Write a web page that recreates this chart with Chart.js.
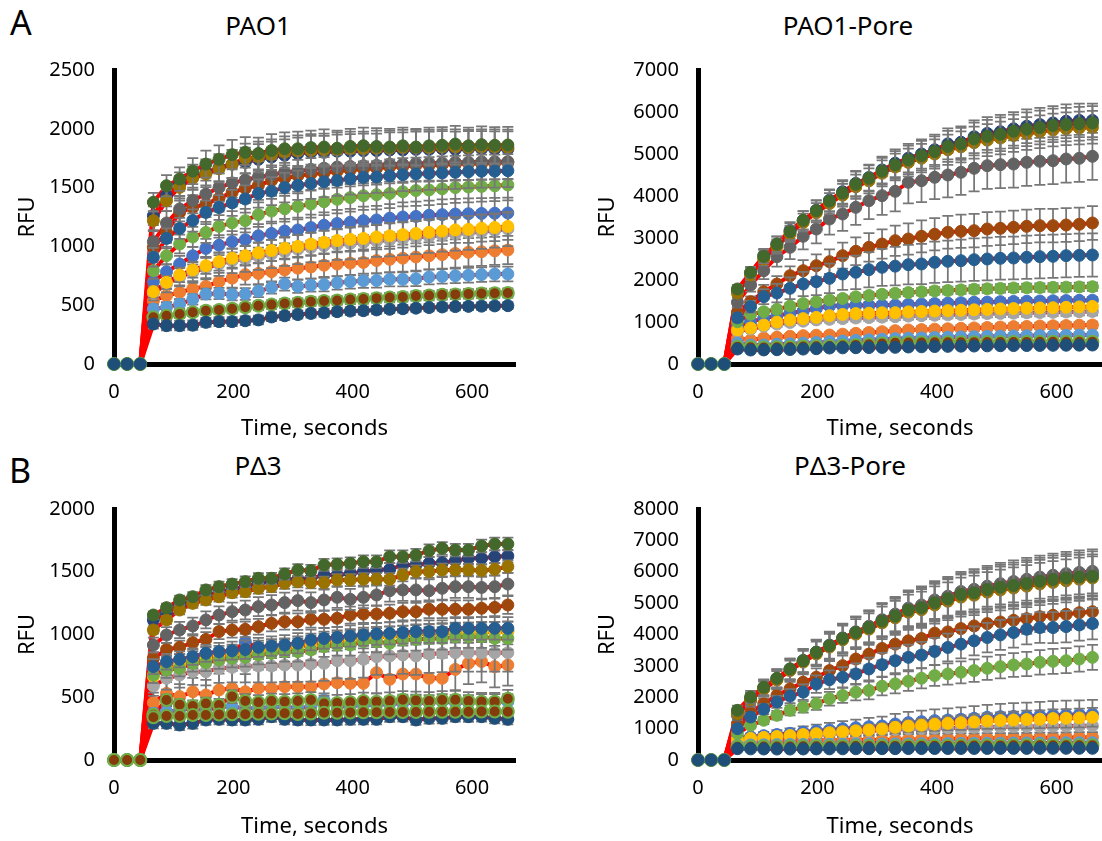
<!DOCTYPE html>
<html>
<head>
<meta charset="utf-8">
<title>RFU kinetics</title>
<script src="https://cdn.jsdelivr.net/npm/chart.js@4.4.1/dist/chart.umd.min.js"></script>
<style>
  body { margin: 0; background: #fff; font-family: "Noto Sans", sans-serif; }
  #page { position: relative; width: 1102px; height: 841px; overflow: hidden; background: #fff; }
  canvas { position: absolute; }
  .panel-tag { position: absolute; font-size: 34px; line-height: 1; color: #000; }
  .panel-title { position: absolute; width: 240px; text-align: center; font-size: 26px; line-height: 1; color: #000; }
</style>
</head>
<body>
<div id="page">
  <div class="panel-tag" style="left:10px;top:5px">A</div>
  <div class="panel-tag" style="left:9px;top:453px">B</div>
  <div class="panel-title" style="left:138px;top:12px">PAO1</div>
  <div class="panel-title" style="left:728px;top:12px">PAO1-Pore</div>
  <div class="panel-title" style="left:138px;top:452px">PΔ3</div>
  <div class="panel-title" style="left:730px;top:452px">PΔ3-Pore</div>
  <canvas id="pao1" width="551" height="440" style="left:0;top:0"></canvas>
  <canvas id="pao1Pore" width="551" height="440" style="left:551px;top:0"></canvas>
  <canvas id="pd3" width="551" height="401" style="left:0;top:440px"></canvas>
  <canvas id="pd3Pore" width="551" height="401" style="left:551px;top:440px"></canvas>
</div>
<script>
// read times (s)
const times = [0,22,44,66,88,110,132,154,176,198,220,242,264,286,308,330,352,374,396,418,440,462,484,506,528,550,572,594,616,638,660];

const xTicks = [0, 200, 400, 600];
const pao1Ticks = [0, 500, 1000, 1500, 2000, 2500];
const pao1PoreTicks = [0, 1000, 2000, 3000, 4000, 5000, 6000, 7000];
const pd3Ticks = [0, 500, 1000, 1500, 2000];
const pd3PoreTicks = [0, 1000, 2000, 3000, 4000, 5000, 6000, 7000, 8000];

// marker colours, one per series (Office palette order)
const markerFill = ["#4472C4","#ED7D31","#A5A5A5","#FFC000","#5B9BD5","#70AD47","#264478","#9E480E","#636363","#997300","#255E91","#43682B","#843C0C","#1F4E79","#843C0C"];
const markerEdge = ["#4472C4","#ED7D31","#A5A5A5","#FFC000","#5B9BD5","#70AD47","#264478","#9E480E","#636363","#997300","#255E91","#43682B","#70AD47","#1F4E79","#70AD47"];

// PAO1 mean RFU per series
const pao1Rfu = [
  [0,0,0, 700,785,850,920,983,1010,1040, 1057,1090,1110,1130,1140,1160,1180, 1195,1205,1219,1225,1240,1250,1255, 1265,1270,1275,1278,1280,1282,1284],
  [0,0,0, 538,581,609,640,660,700,730, 760,770,785,800,815,825,840, 850,858,864,880,890,900,910, 920,930,940,950,955,962,969],
  [0,0,0, 600,680,740,780,815,850,878, 893,915,935,955,975,990,1005, 1015,1025,1034,1045,1055,1065,1075, 1085,1095,1105,1115,1125,1135,1148],
  [0,0,0, 615,694,757,800,836,870,900, 921,945,965,985,1000,1020,1035, 1050,1060,1068,1080,1090,1100,1110, 1120,1130,1140,1145,1155,1160,1170],
  [0,0,0, 468,482,510,550,595,600,590, 595,620,650,680,660,670,675, 690,700,708,710,720,720,725, 740,745,750,755,760,765,765],
  [0,0,0, 794,921,1020,1080,1119,1170,1200, 1219,1270,1300,1320,1340,1360,1380, 1400,1415,1431,1440,1450,1465,1475, 1480,1490,1500,1505,1510,1515,1522],
  [0,0,0, 1261,1431,1530,1590,1629,1670,1700, 1715,1740,1760,1775,1790,1800,1800, 1810,1810,1814,1815,1820,1820,1825, 1825,1830,1825,1830,1830,1828,1828],
  [0,0,0, 992,1119,1289,1330,1360,1410,1460, 1493,1520,1560,1580,1600,1615,1625, 1640,1650,1658,1665,1675,1680,1690, 1690,1695,1700,1705,1705,1710,1715],
  [0,0,0, 1040,1199,1318,1390,1445,1500,1540, 1564,1590,1610,1630,1640,1655,1665, 1675,1680,1686,1690,1700,1700,1705, 1710,1710,1715,1715,1720,1720,1720],
  [0,0,0, 1219,1389,1502,1580,1615,1660,1700, 1749,1760,1780,1800,1810,1815,1820, 1825,1830,1830,1835,1835,1840,1840, 1840,1845,1845,1840,1845,1845,1842],
  [0,0,0, 907,1068,1153,1220,1289,1330,1370, 1403,1450,1470,1500,1520,1535,1550, 1560,1575,1587,1590,1600,1610,1615, 1620,1625,1630,1635,1640,1640,1644],
  [0,0,0, 1375,1516,1573,1640,1700,1740,1780, 1800,1790,1815,1830,1830,1840,1845, 1835,1850,1856,1850,1845,1855,1845, 1855,1860,1870,1855,1865,1860,1862],
  [0,0,0, 397,411,425,440,453,460,470, 482,495,505,515,520,530,535, 540,548,553,560,565,570,578, 582,588,592,596,600,602,604],
  [0,0,0, 340,326,326,330,354,360,360, 368,375,400,410,420,430,435, 445,450,453,460,465,470,475, 480,485,488,490,492,494,496]
];
const pao1Sd = [
  [0,0,0, 60,65,70,75,80,85,90, 95,100,100,105,105,110,110, 115,115,120,120,120,125,125, 125,130,130,130,130,130,130],
  [0,0,0, 50,55,60,65,70,75,80, 85,90,90,95,95,100,100, 105,105,110,110,110,115,115, 115,120,120,120,120,120,120],
  [0,0,0, 60,70,80,90,95,100,105, 110,115,120,120,125,125,130, 130,135,135,135,140,140,140, 140,140,140,145,145,145,145],
  [0,0,0, 50,55,60,65,70,75,80, 85,90,90,95,95,100,100, 100,105,105,105,110,110,110, 110,110,110,115,115,115,115],
  [0,0,0, 40,40,42,45,45,48,50, 50,52,52,55,55,55,58, 58,58,60,60,60,60,62, 62,62,62,62,62,62,62],
  [0,0,0, 70,75,80,85,90,95,100, 100,105,105,110,110,115,115, 120,120,120,125,125,125,130, 130,130,130,130,130,130,130],
  [0,0,0, 80,90,100,105,110,115,120, 125,130,130,135,135,140,140, 140,145,145,145,150,150,150, 150,150,150,150,150,150,150],
  [0,0,0, 80,90,100,105,110,115,120, 125,125,130,130,135,135,135, 140,140,140,140,140,140,140, 140,140,140,140,140,140,140],
  [0,0,0, 90,100,105,110,115,120,125, 130,135,135,140,140,145,145, 145,150,150,150,150,150,150, 150,150,150,150,150,150,150],
  [0,0,0, 80,90,95,100,110,115,120, 125,130,130,135,135,140,140, 145,145,145,150,150,150,150, 150,150,150,150,150,150,150],
  [0,0,0, 80,85,90,95,100,105,110, 115,120,120,125,125,130,130, 130,135,135,135,140,140,140, 140,140,140,140,140,140,140],
  [0,0,0, 80,90,100,110,115,120,125, 130,135,140,140,145,145,150, 150,150,155,155,155,155,155, 155,155,155,155,155,155,155],
  [0,0,0, 30,30,32,32,34,34,35, 35,36,36,37,37,38,38, 38,39,39,39,40,40,40, 40,40,40,40,40,40,40],
  [0,0,0, 40,40,40,40,38,38,38, 37,37,36,36,35,35,35, 34,34,34,33,33,33,32, 32,32,31,31,31,30,30]
];

// PAO1-Pore mean RFU per series
const pao1PoreRfu = [
  [0,0,0, 888,1008,1087,1150,1210,1260,1320, 1381,1390,1395,1400,1403,1405,1420, 1430,1440,1450,1460,1470,1475,1485, 1490,1495,1500,1505,1510,1515,1520],
  [0,0,0, 611,571,619,640,660,675,685, 690,710,730,750,770,794,810, 820,830,840,850,860,870,880, 890,895,905,910,915,925,930],
  [0,0,0, 780,830,900,950,990,1020,1050, 1063,1080,1095,1105,1115,1127,1140, 1150,1160,1170,1180,1190,1200,1205, 1210,1220,1225,1230,1238,1245,1250],
  [0,0,0, 810,857,929,1000,1050,1080,1110, 1150,1180,1200,1210,1220,1222,1240, 1250,1260,1270,1280,1290,1300,1310, 1320,1330,1335,1340,1350,1360,1370],
  [0,0,0, 500,452,452,470,480,495,510, 532,545,560,575,590,603,612, 620,630,638,645,650,658,663, 668,672,676,680,684,688,690],
  [0,0,0, 1007,1183,1246,1300,1380,1440,1480, 1524,1560,1600,1630,1660,1683,1700, 1720,1740,1750,1765,1780,1790,1800, 1810,1815,1820,1825,1830,1835,1840],
  [0,0,0, 1750,2167,2580,2860,3180,3420,3660, 3900,4100,4300,4440,4620,4780,4900, 5000,5100,5240,5280,5410,5490,5530, 5600,5660,5700,5740,5780,5800,5800],
  [0,0,0, 1221,1483,1722,1905,2103,2222,2341, 2437,2580,2683,2778,2857,2937,2976, 3040,3088,3135,3159,3175,3214,3230, 3254,3278,3294,3294,3310,3326,3357],
  [0,0,0, 1468,1881,2222,2556,2778,3040,3214, 3452,3572,3730,3889,4008,4111,4326, 4365,4445,4500,4564,4659,4722,4746, 4762,4802,4826,4841,4881,4897,4945],
  [0,0,0, 1690,2120,2500,2800,3100,3370,3600, 3820,4020,4220,4360,4540,4690,4800, 4900,5000,5100,5170,5270,5330,5380, 5440,5490,5530,5570,5600,5620,5635],
  [0,0,0, 1100,1365,1603,1690,1802,1905,1960, 2040,2143,2183,2246,2302,2330,2365, 2381,2421,2445,2460,2484,2500,2516, 2524,2540,2556,2564,2580,2587,2595],
  [0,0,0, 1786,2180,2560,2850,3150,3420,3650, 3880,4070,4280,4420,4590,4740,4860, 4960,5060,5180,5240,5360,5420,5470, 5540,5590,5630,5680,5700,5720,5740],
  [0,0,0, 413,400,395,400,405,415,422, 429,440,455,470,490,508,510, 512,515,517,518,520,522,523, 525,526,527,528,529,530,532],
  [0,0,0, 357,333,335,340,345,355,365, 381,385,388,392,395,397,405, 410,415,420,425,428,432,435, 438,440,443,445,447,449,452]
];
const pao1PoreSd = [
  [0,0,0, 50,52,54,56,58,60,62, 64,66,68,70,70,72,72, 74,74,76,76,78,78,80, 80,80,80,80,80,80,80],
  [0,0,0, 50,52,54,56,58,60,62, 64,66,68,70,70,72,72, 74,74,76,76,78,78,80, 80,80,80,80,80,80,80],
  [0,0,0, 60,62,64,66,68,70,72, 74,76,78,80,80,82,82, 84,84,86,86,88,88,90, 90,90,90,90,90,90,90],
  [0,0,0, 50,52,54,56,58,60,62, 64,66,68,70,70,72,72, 74,74,76,76,78,78,80, 80,80,80,80,80,80,80],
  [0,0,0, 40,40,42,42,44,44,46, 46,48,48,50,50,52,52, 54,54,56,56,58,58,60, 60,60,60,60,60,60,60],
  [0,0,0, 60,62,64,66,68,70,72, 74,76,78,80,82,84,86, 88,90,92,94,96,98,100, 100,100,100,100,100,100,100],
  [0,0,0, 100,130,160,180,200,220,240, 260,280,300,310,320,330,340, 350,360,370,380,390,390,400, 400,400,400,400,400,400,400],
  [0,0,0, 100,130,160,190,220,250,270, 290,310,330,340,350,360,370, 380,385,390,395,400,400,400, 400,400,400,400,400,400,400],
  [0,0,0, 120,160,200,240,280,310,340, 370,400,420,440,460,480,500, 510,520,530,540,550,555,560, 560,560,560,560,560,560,560],
  [0,0,0, 100,120,150,170,190,210,230, 250,270,290,300,310,320,330, 340,350,360,370,380,380,390, 390,390,390,390,390,390,390],
  [0,0,0, 100,140,180,220,260,290,320, 350,380,400,420,440,460,470, 480,490,495,500,505,510,510, 510,515,515,515,515,515,515],
  [0,0,0, 100,130,160,180,200,220,240, 260,280,300,310,320,330,340, 350,360,370,380,390,390,400, 400,400,400,400,400,400,400],
  [0,0,0, 40,40,40,42,42,42,44, 44,44,46,46,46,48,48, 48,50,50,50,50,50,50, 50,50,50,50,50,50,50],
  [0,0,0, 40,40,40,42,42,42,44, 44,44,46,46,46,48,48, 48,50,50,50,50,50,50, 50,50,50,50,50,50,50]
];

// PΔ3 mean RFU per series
const pd3Rfu = [
  [0,0,0, 730,770,790,810,840,850,860, 943,890,900,905,920,940,955, 965,975,985,990,995,1000,1005, 1010,1015,1020,1025,1025,1030,1030],
  [0,0,0, 457,531,505,544,518,558,571, 544,571,571,584,584,584,606, 616,611,611,696,643,685,685, 651,651,722,770,784,744,757],
  [0,0,0, 590,651,677,704,704,730,738, 744,749,749,757,757,765,770, 791,791,802,823,829,837,829, 845,850,855,855,855,855,855],
  [0,0,0, 665,730,760,790,810,830,845, 855,870,880,890,900,920,935, 945,955,965,975,985,990,1000, 1005,1010,1015,1015,1020,1020,1025],
  [0,0,0, 372,385,398,412,393,425,425, 412,412,420,425,412,425,478, 425,430,438,438,446,452,457, 457,465,457,457,465,465,465],
  [0,0,0, 677,717,730,770,776,797,810, 818,837,850,863,863,876,903, 916,916,943,943,930,956,961, 969,969,983,983,983,969,969],
  [0,0,0, 1116,1169,1235,1265,1310,1340,1360, 1380,1410,1420,1440,1440,1448,1474, 1474,1487,1501,1514,1519,1554,1554, 1567,1572,1588,1607,1607,1620,1625],
  [0,0,0, 810,881,898,935,961,1023,1036, 1041,1062,1089,1102,1102,1121,1121, 1129,1155,1163,1163,1169,1182,1182, 1201,1201,1201,1201,1209,1216,1235],
  [0,0,0, 916,996,1036,1068,1116,1155,1182, 1195,1222,1235,1254,1270,1254,1275, 1296,1280,1296,1315,1349,1355,1355, 1349,1368,1381,1381,1375,1381,1402],
  [0,0,0, 1036,1116,1195,1248,1275,1301,1333, 1341,1368,1381,1408,1421,1413,1413, 1434,1434,1440,1440,1440,1474,1501, 1501,1514,1514,1514,1510,1519,1541],
  [0,0,0, 744,783,802,823,850,863,871, 880,898,908,916,930,956,969, 977,988,996,1004,1009,1015,1023, 1023,1023,1049,1049,1049,1049,1049],
  [0,0,0, 1155,1214,1275,1301,1355,1381,1402, 1421,1448,1448,1482,1514,1509,1554, 1559,1567,1580,1580,1620,1620,1633, 1668,1687,1673,1673,1705,1721,1721],
  [0,0,0, 360,478,440,430,450,438,505, 470,460,470,465,470,478,450, 455,460,470,465,470,480,475, 470,478,480,470,465,465,488],
  [0,0,0, 292,292,279,292,319,324,319, 319,324,345,324,319,319,319, 319,324,324,324,345,345,319, 332,332,345,345,345,332,324],
  [0,0,0, 340,350,350,359,359,362,365, 365,368,370,372,367,370,377, 377,378,380,380,382,382,383, 384,385,385,385,386,386,385]
];
const pd3Sd = [
  [0,0,0, 50,52,54,56,58,60,60, 62,62,64,64,66,66,68, 68,68,70,70,70,70,70, 70,70,70,70,70,70,70],
  [0,0,0, 80,90,100,110,120,130,140, 140,150,150,150,160,160,160, 160,165,165,165,165,165,165, 165,165,165,165,165,165,165],
  [0,0,0, 80,90,100,105,110,115,120, 125,130,130,135,135,140,140, 140,145,145,145,150,150,150, 150,150,150,150,150,150,150],
  [0,0,0, 50,52,54,56,58,60,62, 64,66,68,70,70,72,72, 74,74,76,76,78,78,80, 80,80,80,80,80,80,80],
  [0,0,0, 40,40,42,42,44,44,46, 46,48,48,50,50,52,52, 54,54,56,56,58,58,60, 60,60,60,60,60,60,60],
  [0,0,0, 60,62,64,66,68,70,72, 74,76,78,80,80,82,82, 84,84,86,86,88,88,90, 90,90,90,90,90,90,90],
  [0,0,0, 30,32,34,36,38,40,40, 42,42,44,44,46,46,48, 48,48,50,50,50,50,50, 50,50,50,50,50,50,50],
  [0,0,0, 50,52,54,56,58,60,60, 62,62,64,64,66,66,68, 68,68,70,70,70,70,70, 70,70,70,70,70,70,70],
  [0,0,0, 60,62,64,66,68,70,72, 74,76,78,80,80,82,82, 84,84,86,86,88,88,90, 90,90,90,90,90,90,90],
  [0,0,0, 30,32,34,36,38,40,40, 42,42,44,44,46,46,48, 48,48,50,50,50,50,50, 50,50,50,50,50,50,50],
  [0,0,0, 60,62,64,66,68,70,72, 74,76,78,80,80,82,82, 84,84,86,86,88,88,90, 90,90,90,90,90,90,90],
  [0,0,0, 30,32,34,36,38,40,40, 42,42,44,44,46,46,48, 48,48,50,50,50,50,50, 50,50,50,50,50,50,50],
  [0,0,0, 40,42,44,46,48,50,52, 54,56,58,60,60,62,62, 64,64,66,66,68,68,70, 70,70,70,70,70,70,70],
  [0,0,0, 40,40,40,42,40,40,42, 40,40,42,40,40,42,40, 40,42,40,40,42,40,40, 42,40,40,42,40,40,40],
  [0,0,0, 30,30,32,30,30,32,30, 30,32,30,30,32,30,30, 32,30,30,32,30,30,32, 30,30,32,30,30,30,30]
];

// PΔ3-Pore mean RFU per series
const pd3PoreRfu = [
  [0,0,0, 700,740,775,810,850,890,930, 960,1000,1030,1060,1084,1147,1190, 1222,1254,1275,1296,1328,1360,1381, 1390,1402,1413,1434,1440,1450,1466],
  [0,0,0, 580,600,610,615,620,625,628, 630,632,635,636,637,645,655, 660,668,675,680,685,690,695, 700,705,708,712,715,718,722],
  [0,0,0, 600,640,680,710,740,770,800, 830,860,890,920,960,975,990, 1000,1010,1020,1030,1040,1050,1055, 1060,1065,1070,1075,1080,1085,1090],
  [0,0,0, 660,690,720,750,780,810,840, 870,900,930,960,990,1040,1080, 1110,1140,1170,1190,1215,1240,1260, 1275,1290,1300,1320,1330,1340,1360],
  [0,0,0, 470,480,485,490,492,495,498, 500,503,506,508,510,513,516, 519,522,525,528,531,534,537, 540,542,544,546,548,550,552],
  [0,0,0, 844,1108,1266,1424,1583,1688,1794, 1952,2057,2163,2216,2353,2427,2511, 2606,2690,2743,2796,2849,2922,2975, 3028,3060,3112,3144,3165,3218,3271],
  [0,0,0, 1500,1950,2300,2600,2900,3170,3440, 3660,3890,4080,4250,4460,4620,4810, 4900,5060,5180,5320,5380,5480,5560, 5620,5690,5760,5820,5870,5910,5950],
  [0,0,0, 1160,1509,1794,2057,2268,2479,2638, 2849,3007,3218,3376,3555,3693,3798, 3872,4041,4083,4188,4273,4347,4399, 4452,4505,4568,4610,4642,4695,4726],
  [0,0,0, 1424,1900,2280,2580,2880,3150,3420, 3650,3880,4080,4260,4470,4650,4840, 4940,5100,5220,5370,5440,5540,5620, 5690,5760,5830,5890,5940,5980,6014],
  [0,0,0, 1480,1930,2260,2550,2850,3120,3380, 3600,3830,4010,4170,4370,4530,4710, 4790,4940,5060,5190,5250,5350,5420, 5480,5540,5610,5660,5710,5760,5800],
  [0,0,0, 1000,1370,1620,1850,2036,2163,2420, 2560,2638,2743,2901,3038,3165,3271, 3344,3460,3587,3693,3798,3904,3988, 4062,4167,4220,4220,4252,4304,4347],
  [0,0,0, 1583,2005,2321,2606,2901,3165,3429, 3640,3872,4062,4220,4431,4589,4779, 4853,5011,5138,5275,5328,5433,5507, 5560,5623,5697,5750,5802,5834,5855],
  [0,0,0, 420,425,428,430,433,436,438, 440,442,444,446,448,450,452, 454,456,458,460,462,464,466, 467,468,469,470,471,472,473],
  [0,0,0, 360,355,352,350,350,352,354, 356,358,360,360,362,362,364, 364,366,366,367,368,368,369, 370,370,371,371,372,372,372]
];
const pd3PoreSd = [
  [0,0,0, 80,100,120,140,160,180,200, 220,240,260,280,300,320,340, 350,360,370,380,390,400,410, 420,430,440,445,450,450,450],
  [0,0,0, 40,42,44,46,48,50,55, 60,62,65,68,70,72,75, 78,80,82,85,88,90,92, 94,96,98,100,100,100,100],
  [0,0,0, 60,65,70,75,80,90,100, 110,120,130,140,150,160,165, 170,175,180,185,190,195,200, 200,200,200,200,200,200,200],
  [0,0,0, 60,70,80,90,100,110,120, 130,140,150,160,170,180,190, 200,210,220,230,240,250,260, 270,280,285,290,295,300,300],
  [0,0,0, 40,42,44,46,48,50,52, 54,56,58,60,62,64,66, 68,70,72,74,76,78,80, 80,80,80,80,80,80,80],
  [0,0,0, 80,100,120,140,160,180,200, 220,240,260,280,290,300,310, 320,330,340,350,360,370,375, 380,385,390,395,400,400,400],
  [0,0,0, 150,200,250,290,330,370,400, 430,460,490,510,530,550,570, 590,600,615,630,640,650,660, 670,680,685,690,695,700,700],
  [0,0,0, 100,130,160,190,220,250,280, 300,320,340,360,380,400,410, 420,430,440,450,460,470,475, 480,485,490,495,500,500,500],
  [0,0,0, 150,200,250,290,330,370,400, 430,460,490,510,530,550,570, 590,600,615,630,640,650,660, 670,680,685,690,695,700,700],
  [0,0,0, 140,190,240,280,320,360,390, 420,450,480,500,520,540,560, 580,590,605,620,630,640,650, 660,670,675,680,685,690,690],
  [0,0,0, 100,130,160,190,220,250,280, 300,320,340,360,380,400,410, 420,430,440,450,460,470,475, 480,485,490,495,500,500,500],
  [0,0,0, 150,200,250,290,330,370,400, 430,460,490,510,530,550,570, 590,600,615,630,640,650,660, 670,680,685,690,695,700,700],
  [0,0,0, 30,30,32,32,34,34,36, 36,38,38,40,40,42,42, 44,44,46,46,48,48,50, 50,50,50,50,50,50,50],
  [0,0,0, 30,30,30,32,32,32,34, 34,34,36,36,36,38,38, 38,40,40,40,40,40,40, 40,40,40,40,40,40,40]
];

// grey error bars with caps, drawn just before each marker series
const errorBars = {
  id: "errorBars",
  beforeDatasetDraw: function (chart, args) {
    const ds = chart.data.datasets[args.index];
    if (!ds.errors) return;
    const yScale = chart.scales.y;
    const ctx = chart.ctx;
    ctx.save();
    ctx.strokeStyle = "#777777";
    ctx.lineWidth = 1.75;
    args.meta.data.forEach(function (pt, k) {
      const e = ds.errors[k];
      if (!e) return;
      const v = ds.data[k].y;
      const top = yScale.getPixelForValue(v + e);
      const bot = yScale.getPixelForValue(v - e);
      ctx.beginPath();
      ctx.moveTo(pt.x, top);
      ctx.lineTo(pt.x, bot);
      ctx.moveTo(pt.x - 5.5, top);
      ctx.lineTo(pt.x + 5.5, top);
      ctx.moveTo(pt.x - 5.5, bot);
      ctx.lineTo(pt.x + 5.5, bot);
      ctx.stroke();
    });
    ctx.restore();
  }
};

function plotPanel(canvasId, rfu, sd, yTicks, box) {
  const datasets = [];
  rfu.forEach(function (row, i) {
    const points = row.map(function (v, k) { return { x: times[k], y: v }; });
    // red fitted trace, kept underneath every marker
    datasets.push({
      showLine: true,
      data: points,
      borderColor: "#FF0000",
      borderWidth: 4,
      pointRadius: 0,
      order: 100,
      clip: false
    });
    datasets.push({
      showLine: false,
      data: points,
      errors: sd[i],
      backgroundColor: markerFill[i],
      borderColor: markerEdge[i],
      borderWidth: markerEdge[i] === markerFill[i] ? 1 : 2,
      pointRadius: 6,
      order: 50 - i,
      clip: false
    });
  });

  const tickFont = { family: "Noto Sans", size: 20 };
  const titleFont = { family: "Noto Sans", size: 22 };

  new Chart(document.getElementById(canvasId), {
    type: "scatter",
    data: { datasets: datasets },
    plugins: [errorBars],
    options: {
      responsive: false,
      animation: false,
      events: [],
      layout: { autoPadding: false, padding: { top: box.top, right: box.right, bottom: 0, left: 0 } },
      plugins: { legend: { display: false }, tooltip: { enabled: false } },
      scales: {
        x: {
          type: "linear",
          min: 0,
          max: box.xMax,
          afterBuildTicks: function (scale) { scale.ticks = xTicks.map(function (v) { return { value: v }; }); },
          afterFit: function (scale) { scale.height = box.xHeight; },
          grid: { display: false, drawTicks: false },
          border: { display: true, color: "#000", width: 5 },
          ticks: { color: "#000", padding: 16, font: tickFont, callback: function (v) { return String(v); } },
          title: { display: true, text: "Time, seconds", color: "#000", font: titleFont, padding: { top: 0, bottom: box.timePad } }
        },
        y: {
          type: "linear",
          min: 0,
          max: yTicks[yTicks.length - 1],
          afterBuildTicks: function (scale) { scale.ticks = yTicks.map(function (v) { return { value: v }; }); },
          afterFit: function (scale) { scale.width = box.yWidth; },
          grid: { display: false, drawTicks: false },
          border: { display: true, color: "#000", width: 5 },
          ticks: { color: "#000", padding: 19, font: tickFont, callback: function (v) { return String(v); } },
          title: { display: true, text: "RFU", color: "#000", font: titleFont, padding: { top: box.rfuPad, bottom: 0 } }
        }
      }
    }
  });
}

plotPanel("pao1", pao1Rfu, pao1Sd, pao1Ticks, { top: 70, right: 36, xMax: 672, yWidth: 114, xHeight: 76, rfuPad: 15, timePad: -2 });
plotPanel("pao1Pore", pao1PoreRfu, pao1PoreSd, pao1PoreTicks, { top: 70, right: 0, xMax: 676, yWidth: 147, xHeight: 76, rfuPad: 44, timePad: -2 });
plotPanel("pd3", pd3Rfu, pd3Sd, pd3Ticks, { top: 69, right: 36, xMax: 672, yWidth: 114, xHeight: 81, rfuPad: 15, timePad: 1 });
plotPanel("pd3Pore", pd3PoreRfu, pd3PoreSd, pd3PoreTicks, { top: 69, right: 0, xMax: 676, yWidth: 147, xHeight: 81, rfuPad: 44, timePad: 1 });
</script>
</body>
</html>
